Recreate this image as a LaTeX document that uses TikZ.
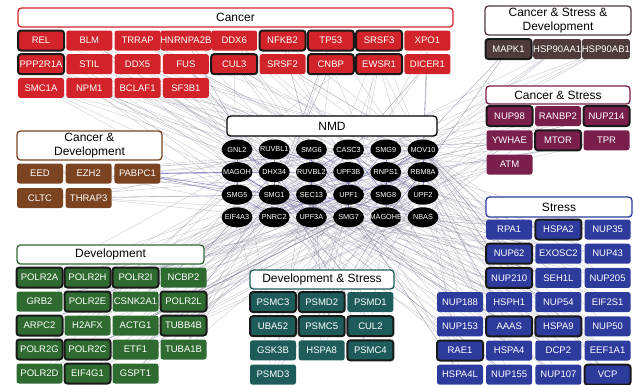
\documentclass[tikz,border=0pt]{standalone}
\usepackage{fontspec}
\setmainfont{Liberation Sans}
\usetikzlibrary{shapes.geometric,backgrounds}
\definecolor{cancer}{HTML}{D2232A}
\definecolor{csd}{HTML}{4F3B3B}
\definecolor{cs}{HTML}{7A1E4C}
\definecolor{cd}{HTML}{7B4320}
\definecolor{dev}{HTML}{2F6B31}
\definecolor{ds}{HTML}{1E5C5C}
\definecolor{stress}{HTML}{2C3B9C}
\definecolor{edgec}{HTML}{8A8AA2}
\newcommand\gn[4]{\node[gene,#4] (#1) at ({\gx+#2*\gpx},{\gy+#3*\gpy}) {#1};}
\tikzset{
  gene/.style={rounded corners=2.5pt, minimum width=46, minimum height=20, inner sep=0pt,
    text=white, font=\fontsize{9.5}{10}\selectfont, fill=\gcol},
  hl/.style={draw=black!90, line width=2pt, rounded corners=3pt},
  hdr/.style={draw, fill=white, rounded corners=3.5pt, line width=1.3pt, inner sep=0pt,
    font=\fontsize{12}{13.5}\selectfont, align=center},
  nmd/.style={ellipse, fill=black, minimum width=31, minimum height=20, inner sep=0pt,
    text=white, font=\fontsize{7.3}{8}\selectfont},
  edge/.style={draw=edgec, opacity=.5, line width=.35pt},
  edgeb/.style={draw=blue!40!gray, opacity=.6, line width=.4pt}
}
\begin{document}
\begin{tikzpicture}[x=1pt,y=-1pt]
\useasboundingbox (0,0) rectangle (633,384);
% headers
\node[hdr, draw=cancer, minimum width=435, minimum height=19] (hCancer) at (235.5,17.5) {Cancer};
\node[hdr, draw=csd, minimum width=146, minimum height=29] (hCSD) at (558,20.5) {Cancer \& Stress \&\\Development};
\node[hdr, draw=cs, minimum width=144, minimum height=18] (hCS) at (558,95) {Cancer \& Stress};
\node[hdr, draw=stress, minimum width=146, minimum height=20] (hStress) at (559,207) {Stress};
\node[hdr, draw=dev, minimum width=187, minimum height=19] (hDev) at (110.5,254.5) {Development};
\node[hdr, draw=ds, minimum width=144, minimum height=19] (hDS) at (322,279.5) {Development \& Stress};
\node[hdr, draw=cd, minimum width=145, minimum height=29] (hCD) at (89.5,145.5) {Cancer \&\\Development};
\node[hdr, draw=black, minimum width=210, minimum height=20] (hNMD) at (332,126) {NMD};
% NMD ellipses
\foreach \nm [count=\i from 0] in {GNL2,RUVBL1,SMG6,CASC3,SMG9,MOV10,MAGOH,DHX34,RUVBL2,UPF3B,RNPS1,RBM8A,SMG5,SMG1,SEC13,UPF1,SMG8,UPF2,EIF4A3,PNRC2,UPF3A,SMG7,MAGOHB,NBAS}{
  \pgfmathtruncatemacro\c{mod(\i,6)}
  \pgfmathtruncatemacro\r{div(\i,6)}
  \node[nmd] (n\i) at ({237+37.2*\c},{149.5+22.6*\r}) {\makebox[0pt]{\nm}};
}
% Cancer
\def\gcol{cancer}\def\gx{41}\def\gy{40.5}\def\gpx{48.3}\def\gpy{23.7}
\gn{REL}{0}{0}{hl}\gn{BLM}{1}{0}{}\gn{TRRAP}{2}{0}{}\gn{HNRNPA2B}{3}{0}{}\gn{DDX6}{4}{0}{}
\gn{NFKB2}{5}{0}{hl}\gn{TP53}{6}{0}{hl}\gn{SRSF3}{7}{0}{hl}\gn{XPO1}{8}{0}{}
\gn{PPP2R1A}{0}{1}{hl}\gn{STIL}{1}{1}{}\gn{DDX5}{2}{1}{}\gn{FUS}{3}{1}{}\gn{CUL3}{4}{1}{hl}
\gn{SRSF2}{5}{1}{}\gn{CNBP}{6}{1}{hl}\gn{EWSR1}{7}{1}{hl}\gn{DICER1}{8}{1}{}
\gn{SMC1A}{0}{2}{}\gn{NPM1}{1}{2}{}\gn{BCLAF1}{2}{2}{}\gn{SF3B1}{3}{2}{}
% Cancer & Stress & Development
\def\gcol{csd}\def\gx{508.5}\def\gy{49}\def\gpx{48.7}\def\gpy{24}
\gn{MAPK1}{0}{0}{hl}\gn{HSP90AA1}{1}{0}{}\gn{HSP90AB1}{2}{0}{}
% Cancer & Stress
\def\gcol{cs}\def\gx{509.5}\def\gy{116}\def\gpx{48.5}\def\gpy{24.3}
\gn{NUP98}{0}{0}{hl}\gn{RANBP2}{1}{0}{}\gn{NUP214}{2}{0}{hl}
\gn{YWHAE}{0}{1}{}\gn{MTOR}{1}{1}{hl}\gn{TPR}{2}{1}{}
\gn{ATM}{0}{2}{}
% Stress
\def\gcol{stress}\def\gx{460}\def\gy{229.5}\def\gpx{49.2}\def\gpy{24.2}
\gn{RPA1}{1}{0}{}\gn{HSPA2}{2}{0}{hl}\gn{NUP35}{3}{0}{}
\gn{NUP62}{1}{1}{hl}\gn{EXOSC2}{2}{1}{}\gn{NUP43}{3}{1}{}
\gn{NUP210}{1}{2}{hl}\gn{SEH1L}{2}{2}{}\gn{NUP205}{3}{2}{}
\gn{NUP188}{0}{3}{}\gn{HSPH1}{1}{3}{}\gn{NUP54}{2}{3}{}\gn{EIF2S1}{3}{3}{}
\gn{NUP153}{0}{4}{}\gn{AAAS}{1}{4}{hl}\gn{HSPA9}{2}{4}{hl}\gn{NUP50}{3}{4}{}
\gn{RAE1}{0}{5}{hl}\gn{HSPA4}{1}{5}{}\gn{DCP2}{2}{5}{}\gn{EEF1A1}{3}{5}{}
\gn{HSPA4L}{0}{6}{}\gn{NUP155}{1}{6}{}\gn{NUP107}{2}{6}{}\gn{VCP}{3}{6}{hl}
% Development
\def\gcol{dev}\def\gx{39.5}\def\gy{277.5}\def\gpx{48}\def\gpy{24}
\gn{POLR2A}{0}{0}{hl}\gn{POLR2H}{1}{0}{hl}\gn{POLR2I}{2}{0}{hl}\gn{NCBP2}{3}{0}{}
\gn{GRB2}{0}{1}{}\gn{POLR2E}{1}{1}{hl}\gn{CSNK2A1}{2}{1}{}\gn{POLR2L}{3}{1}{hl}
\gn{ARPC2}{0}{2}{hl}\gn{H2AFX}{1}{2}{}\gn{ACTG1}{2}{2}{}\gn{TUBB4B}{3}{2}{hl}
\gn{POLR2G}{0}{3}{hl}\gn{POLR2C}{1}{3}{hl}\gn{ETF1}{2}{3}{}\gn{TUBA1B}{3}{3}{}
\gn{POLR2D}{0}{4}{}\gn{EIF4G1}{1}{4}{hl}\gn{GSPT1}{2}{4}{}
% Development & Stress
\def\gcol{ds}\def\gx{273}\def\gy{302}\def\gpx{48.7}\def\gpy{24.2}
\gn{PSMC3}{0}{0}{hl}\gn{PSMD2}{1}{0}{hl}\gn{PSMD1}{2}{0}{}
\gn{UBA52}{0}{1}{hl}\gn{PSMC5}{1}{1}{hl}\gn{CUL2}{2}{1}{hl}
\gn{GSK3B}{0}{2}{}\gn{HSPA8}{1}{2}{}\gn{PSMC4}{2}{2}{hl}
\gn{PSMD3}{0}{3}{}
% Cancer & Development
\def\gcol{cd}\def\gx{40}\def\gy{173.5}\def\gpx{48.7}\def\gpy{24.5}
\gn{EED}{0}{0}{}\gn{EZH2}{1}{0}{}\gn{PABPC1}{2}{0}{}
\gn{CLTC}{0}{1}{}\gn{THRAP3}{1}{1}{}
% edges
\begin{scope}[on background layer]
\foreach \g [count=\i] in {REL,BLM,TRRAP,HNRNPA2B,DDX6,NFKB2,TP53,SRSF3,XPO1,PPP2R1A,STIL,DDX5,FUS,CUL3,SRSF2,CNBP,EWSR1,DICER1,SMC1A,NPM1,BCLAF1,SF3B1,MAPK1,HSP90AA1,HSP90AB1,NUP98,RANBP2,NUP214,YWHAE,MTOR,TPR,ATM,RPA1,HSPA2,NUP35,NUP62,EXOSC2,NUP43,NUP210,SEH1L,NUP205,NUP188,HSPH1,NUP54,EIF2S1,NUP153,AAAS,HSPA9,NUP50,RAE1,HSPA4,DCP2,EEF1A1,HSPA4L,NUP155,NUP107,VCP,POLR2A,POLR2H,POLR2I,NCBP2,GRB2,POLR2E,CSNK2A1,POLR2L,ARPC2,H2AFX,ACTG1,TUBB4B,POLR2G,POLR2C,ETF1,TUBA1B,POLR2D,EIF4G1,GSPT1,PSMC3,PSMD2,PSMD1,UBA52,PSMC5,CUL2,GSK3B,HSPA8,PSMC4,PSMD3,EED,EZH2,PABPC1,CLTC,THRAP3}{
  \foreach \k in {1,2,3,4}{
    \pgfmathtruncatemacro\t{mod(\i*7+\k*\k*5+\k*\i,24)}
    \draw[edge] (\g) -- (n\t);
  }
}
\foreach \a/\b in {0/7,1/9,2/14,3/8,4/15,5/10,6/13,7/20,8/16,9/21,10/17,11/22,12/19,13/21,14/23,15/18,0/12,5/17,2/9,3/16,6/20,11/19,1/13,4/22}{
  \draw[edgeb] (n\a) -- (n\b);
}
\foreach \t in {6,7,12,13,9}{
  \draw[edgeb] (PABPC1) -- (n\t);
}
\end{scope}
\end{tikzpicture}
\end{document}
